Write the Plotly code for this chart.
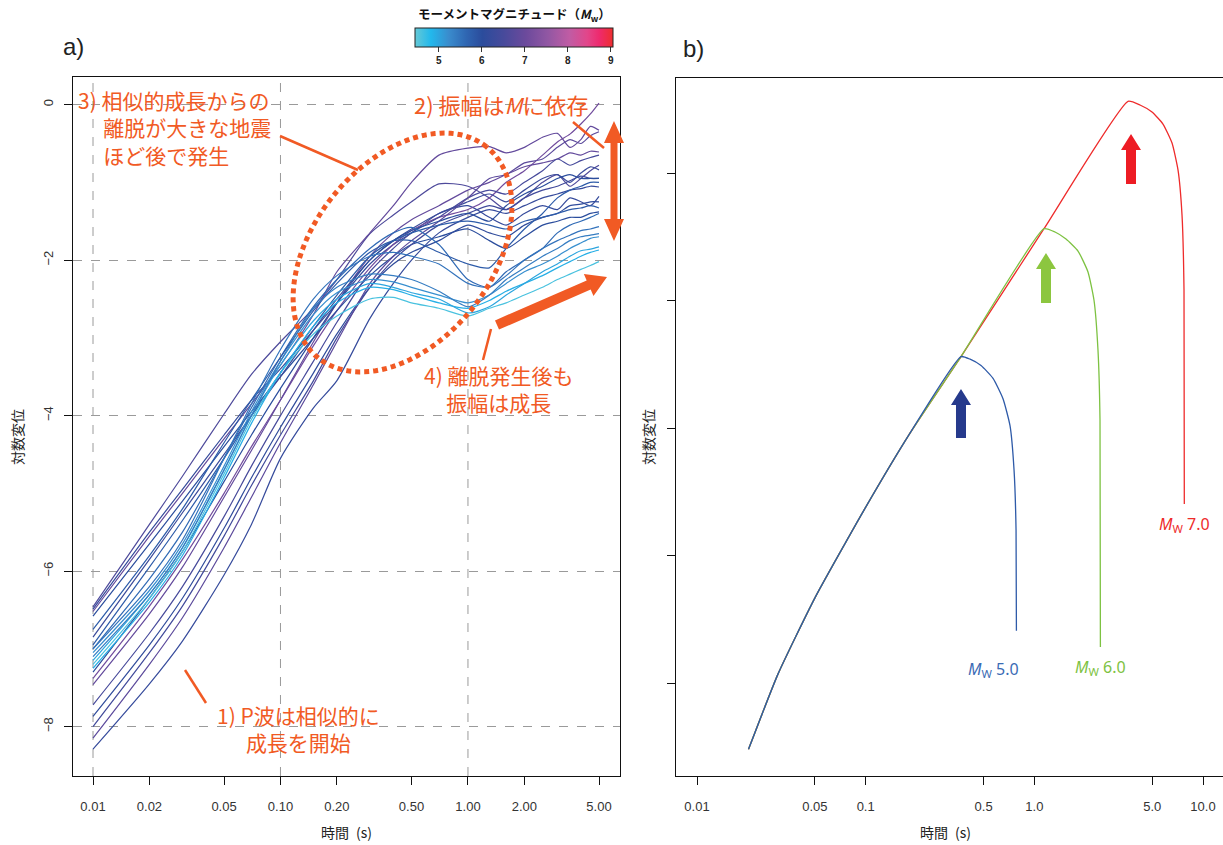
import math
import plotly.graph_objects as go
from plotly.colors import sample_colorscale

W, H = 1223, 845
ORANGE = "#F15A24"
JP = "Noto Sans CJK JP"
LAT = "Liberation Sans"

# ---------------- Panel a) data ----------------
T = [0.01, 0.02, 0.03, 0.05, 0.07, 0.1, 0.15, 0.2, 0.3, 0.4, 0.5, 0.7,
     1.0, 1.3, 1.6, 2.0, 2.5, 3.0, 3.5, 4.0, 4.5, 5.0]

h01 = [-6.46,-5.40,-4.78,-3.98,-3.47,-3.05,-2.62,-2.25,-1.66,-1.42,-1.25,-1.02,-1.05,-1.20,-1.35,-1.20,-1.00,-0.90,-1.05,-0.95,-0.85,-0.78]
h02 = [-6.49,-5.50,-4.95,-4.25,-3.80,-3.40,-2.90,-2.55,-2.05,-1.80,-1.65,-1.40,-1.30,-1.45,-1.55,-1.40,-1.30,-1.35,-1.20,-1.25,-1.30,-1.18]
h03 = [-6.52,-5.55,-5.00,-4.30,-3.85,-3.35,-2.70,-2.15,-1.65,-1.30,-1.00,-0.65,-0.56,-0.54,-0.62,-0.55,-0.42,-0.37,-0.55,-0.45,-0.28,-0.33]
h04 = [-7.38,-6.45,-5.85,-5.00,-4.40,-3.80,-3.10,-2.65,-2.10,-1.80,-1.62,-1.45,-1.35,-1.20,-1.00,-0.85,-0.65,-0.48,-0.38,-0.25,-0.12,0.02]
h05 = [-7.46,-6.55,-5.95,-5.05,-4.45,-3.80,-3.05,-2.55,-1.95,-1.65,-1.48,-1.30,-1.10,-1.00,-0.90,-0.80,-0.75,-0.70,-0.62,-0.65,-0.60,-0.61]
h06 = [-6.58,-5.65,-5.10,-4.40,-3.95,-3.50,-3.00,-2.65,-2.20,-1.95,-1.80,-1.70,-1.60,-1.75,-1.85,-1.70,-1.55,-1.50,-1.45,-1.45,-1.40,-1.38]
h07 = [-6.85,-5.85,-5.25,-4.50,-4.00,-3.50,-2.90,-2.50,-2.00,-1.75,-1.60,-1.40,-1.25,-1.15,-1.25,-1.10,-0.95,-0.90,-1.00,-0.88,-0.80,-0.84]
h08 = [-7.72,-6.80,-6.20,-5.30,-4.65,-4.00,-3.30,-2.80,-2.15,-1.85,-1.65,-1.45,-1.20,-1.10,-1.15,-1.00,-0.85,-0.70,-0.78,-0.72,-0.68,-0.65]
h09 = [-7.87,-6.95,-6.35,-5.45,-4.80,-4.15,-3.45,-2.95,-2.35,-2.05,-1.90,-1.75,-1.55,-1.65,-1.70,-1.55,-1.45,-1.40,-1.30,-1.28,-1.25,-1.25]
h10 = [-8.00,-7.05,-6.45,-5.55,-4.90,-4.25,-3.55,-3.00,-2.35,-2.00,-1.80,-1.55,-1.40,-1.30,-1.35,-1.20,-1.10,-1.05,-0.98,-0.92,-0.95,-0.95]
h11 = [-8.15,-7.20,-6.60,-5.70,-5.05,-4.35,-3.60,-3.05,-2.30,-1.95,-1.75,-1.50,-1.20,-0.95,-0.90,-0.75,-0.70,-0.55,-0.45,-0.50,-0.40,-0.35]
h12 = [-8.29,-7.45,-6.90,-6.05,-5.40,-4.55,-3.90,-3.55,-2.75,-2.30,-2.00,-1.65,-1.45,-1.35,-1.40,-1.30,-1.20,-1.15,-1.10,-1.08,-1.05,-1.06]
h13 = [-6.95,-5.95,-5.35,-4.55,-4.00,-3.45,-2.85,-2.45,-1.95,-1.75,-1.65,-1.55,-1.50,-1.55,-1.60,-1.50,-1.45,-1.40,-1.35,-1.33,-1.30,-1.33]
h14 = [-7.30,-6.35,-5.75,-4.85,-4.25,-3.65,-3.00,-2.55,-2.00,-1.75,-1.62,-1.50,-1.40,-1.50,-1.30,-1.15,-1.05,-0.95,-0.90,-0.95,-0.95,-0.95]
h15 = [-7.00,-6.10,-5.50,-4.55,-3.90,-3.25,-2.60,-2.25,-1.85,-1.65,-1.58,-1.80,-2.25,-2.35,-2.15,-2.00,-1.85,-1.65,-1.55,-1.50,-1.45,-1.40]
h16 = [-6.75,-5.80,-5.20,-4.35,-3.80,-3.25,-2.65,-2.30,-1.90,-1.75,-1.75,-1.90,-2.05,-2.10,-1.85,-1.60,-1.40,-1.20,-1.10,-1.05,-1.00,-1.00]
c01 = [-7.20,-6.35,-5.75,-4.75,-4.05,-3.45,-2.95,-2.72,-2.50,-2.48,-2.55,-2.62,-2.72,-2.62,-2.55,-2.45,-2.35,-2.25,-2.18,-2.12,-2.07,-2.02]
c02 = [-7.25,-6.40,-5.80,-4.80,-4.10,-3.45,-2.85,-2.55,-2.35,-2.38,-2.45,-2.55,-2.62,-2.52,-2.40,-2.30,-2.20,-2.10,-2.02,-1.95,-1.90,-1.87]
c03 = [-7.15,-6.30,-5.70,-4.70,-4.00,-3.35,-2.78,-2.50,-2.30,-2.35,-2.42,-2.50,-2.68,-2.60,-2.45,-2.30,-2.15,-2.05,-1.95,-1.88,-1.86,-1.83]
c04 = [-7.05,-6.25,-5.65,-4.65,-3.95,-3.30,-2.70,-2.42,-2.25,-2.28,-2.35,-2.45,-2.55,-2.45,-2.30,-2.15,-2.05,-1.95,-1.85,-1.78,-1.72,-1.70]
c05 = [-7.10,-6.30,-5.70,-4.70,-4.00,-3.30,-2.62,-2.35,-2.18,-2.20,-2.25,-2.40,-2.60,-2.45,-2.25,-2.10,-1.95,-1.85,-1.75,-1.70,-1.68,-1.66]
c06 = [-7.00,-6.20,-5.60,-4.55,-3.85,-3.15,-2.50,-2.20,-1.95,-1.90,-1.95,-2.05,-2.30,-2.35,-2.20,-2.00,-1.85,-1.75,-1.68,-1.62,-1.60,-1.57]

high_curves = [h01, h02, h03, h04, h05, h06, h07, h08, h09, h10, h11, h12, h13, h14, h15, h16]
high_mw = [6.6, 6.2, 6.9, 7.1, 6.9, 6.0, 6.3, 6.5, 6.1, 6.4, 6.8, 6.2, 5.8, 6.0, 5.6, 5.8]
low_curves = [c01, c02, c03, c04, c05, c06]
low_mw = [4.6, 4.9, 5.0, 5.2, 5.4, 5.5]

MW_MIN, MW_MAX = 4.45, 9.05
CS = [[0.0, "#66C9D6"], [0.08, "#22B8EC"], [0.17, "#3A8CCD"], [0.26, "#2F66B2"],
      [0.34, "#2B4C9C"], [0.45, "#484A9B"], [0.56, "#6C4A9C"], [0.67, "#9157A3"],
      [0.78, "#C05CA4"], [0.87, "#E2468A"], [0.93, "#EE2A6E"], [1.0, "#EE2E2E"]]

# ---------------- Panel b) data ----------------
grow_t = [0.0202, 0.0302, 0.0501, 0.0991, 0.1832, 0.3674]
grow_v = [-5.52, -4.93, -4.33, -3.63, -3.04, -2.44]
peak6_t, peak6_v = 1.141, -1.437
peak7_t, peak7_v = 3.592, -0.438
drop5_t = [0.416, 0.483, 0.569, 0.652, 0.717, 0.758, 0.779, 0.783]
drop5_v = [-2.46, -2.51, -2.61, -2.77, -2.98, -3.33, -3.80, -4.59]
drop6_t = [1.326, 1.541, 1.815, 2.080, 2.257, 2.384, 2.451, 2.464]
drop6_v = [-1.463, -1.518, -1.612, -1.776, -1.996, -2.388, -2.937, -4.718]
drop7_t = [4.231, 4.984, 5.790, 6.551, 7.107, 7.507, 7.715, 7.747]
drop7_v = [-0.467, -0.522, -0.616, -0.765, -0.976, -1.329, -1.918, -3.596]

xa_ticks = [0.01, 0.02, 0.05, 0.1, 0.2, 0.5, 1, 2, 5]
xa_text = ["0.01", "0.02", "0.05", "0.10", "0.20", "0.50", "1.00", "2.00", "5.00"]
ya_ticks = [-8, -6, -4, -2, 0]
xb_ticks = [0.01, 0.05, 0.1, 0.5, 1, 5, 10]
xb_text = ["0.01", "0.05", "0.1", "0.5", "1.0", "5.0", "10.0"]
yb_ticks = [-5, -4, -3, -2, -1]

fig = go.Figure()

def mcolor(m):
    return sample_colorscale(CS, [(m - MW_MIN) / (MW_MAX - MW_MIN)])[0]

for vals, m in list(zip(high_curves, high_mw)) + list(zip(low_curves, low_mw)):
    fig.add_trace(go.Scatter(x=T, y=vals, mode="lines", xaxis="x", yaxis="y",
                             line=dict(color=mcolor(m), width=1.2, shape="spline", smoothing=0.7),
                             hoverinfo="skip", showlegend=False))

# colorbar holder
fig.add_trace(go.Scatter(
    x=[None], y=[None], mode="markers", xaxis="x", yaxis="y", showlegend=False, hoverinfo="skip",
    marker=dict(color=[MW_MIN], colorscale=CS, cmin=MW_MIN, cmax=MW_MAX, showscale=True,
                colorbar=dict(orientation="h", x=514 / W, xanchor="center", y=1 - 28 / H, yanchor="top",
                              len=198, lenmode="pixels", thickness=19, thicknessmode="pixels",
                              outlinewidth=1, outlinecolor="#222", xpad=0, ypad=0,
                              tickvals=[5, 6, 7, 8, 9], ticks="outside", ticklen=5, tickcolor="#333",
                              tickfont=dict(size=10, color="#222", family=LAT, weight="bold")))))

# panel b lines: red, green, blue (blue on top)
BLUE, GREEN, RED = "#2E5AA8", "#7DC242", "#EE2B2B"
bline = dict(width=1.3, shape="spline", smoothing=0.5)
fig.add_trace(go.Scatter(x=grow_t + [peak6_t, peak7_t] + drop7_t, y=grow_v + [peak6_v, peak7_v] + drop7_v,
                         mode="lines", xaxis="x2", yaxis="y2", line=dict(color=RED, **bline),
                         hoverinfo="skip", showlegend=False))
fig.add_trace(go.Scatter(x=grow_t + [peak6_t] + drop6_t, y=grow_v + [peak6_v] + drop6_v,
                         mode="lines", xaxis="x2", yaxis="y2", line=dict(color=GREEN, **bline),
                         hoverinfo="skip", showlegend=False))
fig.add_trace(go.Scatter(x=grow_t + drop5_t, y=grow_v + drop5_v,
                         mode="lines", xaxis="x2", yaxis="y2", line=dict(color=BLUE, **bline),
                         hoverinfo="skip", showlegend=False))

# ---------------- helpers for decorations (pixel -> paper) ----------------
def P(x, y):
    return x / W, 1 - y / H

def arrow_path(x0, y0, x1, y1, w, hw, hl, double=False):
    dx, dy = x1 - x0, y1 - y0
    L = math.hypot(dx, dy)
    ux, uy = dx / L, dy / L
    nx, ny = -uy, ux
    pts = []
    bx1, by1 = x1 - ux * hl, y1 - uy * hl
    if double:
        bx0, by0 = x0 + ux * hl, y0 + uy * hl
    else:
        bx0, by0 = x0, y0
    pts.append((x1, y1))
    pts.append((bx1 + nx * hw / 2, by1 + ny * hw / 2))
    pts.append((bx1 + nx * w / 2, by1 + ny * w / 2))
    pts.append((bx0 + nx * w / 2, by0 + ny * w / 2))
    if double:
        pts.append((bx0 + nx * hw / 2, by0 + ny * hw / 2))
        pts.append((x0, y0))
        pts.append((bx0 - nx * hw / 2, by0 - ny * hw / 2))
    pts.append((bx0 - nx * w / 2, by0 - ny * w / 2))
    pts.append((bx1 - nx * w / 2, by1 - ny * w / 2))
    pts.append((bx1 - nx * hw / 2, by1 - ny * hw / 2))
    s = ""
    for i, (px, py) in enumerate(pts):
        a, b = P(px, py)
        s += ("M" if i == 0 else "L") + f"{a:.5f},{b:.5f} "
    return s + "Z"

shapes = []
# vertical dashed grid lines at decades (panel a)
for gx in [0.01, 0.1, 1.0]:
    shapes.append(dict(type="line", xref="x", yref="y domain", x0=gx, x1=gx, y0=0, y1=1,
                       line=dict(color="#9A9A9A", width=1, dash="dash"), layer="below"))

def seg(x0, y0, x1, y1, width=2.5, color=ORANGE):
    a0, b0 = P(x0, y0)
    a1, b1 = P(x1, y1)
    return dict(type="line", xref="paper", yref="paper", x0=a0, y0=b0, x1=a1, y1=b1,
                line=dict(color=color, width=width))

shapes.append(seg(185, 670, 206, 703))
shapes.append(seg(573, 122, 604, 148))
shapes.append(seg(280, 136, 358, 170))
shapes.append(seg(491, 329, 483, 360))

# dotted ellipse
cx, cy, ea, eb, th = 402.5, 252.5, 135.0, 89.5, math.radians(51.5)
ep = ""
for i in range(121):
    ph = 2 * math.pi * i / 120
    xx = cx + ea * math.cos(ph) * math.cos(th) - eb * math.sin(ph) * math.sin(th)
    yy = cy - (ea * math.cos(ph) * math.sin(th) + eb * math.sin(ph) * math.cos(th))
    a, b = P(xx, yy)
    ep += ("M" if i == 0 else "L") + f"{a:.5f},{b:.5f} "
shapes.append(dict(type="path", xref="paper", yref="paper", path=ep,
                   line=dict(color=ORANGE, width=5, dash="5px,4px")))

# thick orange arrows
shapes.append(dict(type="path", xref="paper", yref="paper",
                   path=arrow_path(614, 241, 614, 121, 7, 20, 22, double=True),
                   fillcolor=ORANGE, line=dict(width=0)))
shapes.append(dict(type="path", xref="paper", yref="paper",
                   path=arrow_path(497, 325, 607, 277, 10, 24, 20),
                   fillcolor=ORANGE, line=dict(width=0)))
# panel b up arrows
for (ax, ytip, ybase, col) in [(961, 389, 438, "#263A8C"), (1046, 253, 303, "#8CC63F"), (1131, 134, 184, "#ED1C24")]:
    shapes.append(dict(type="path", xref="paper", yref="paper",
                       path=arrow_path(ax, ybase, ax, ytip, 10, 20, 16),
                       fillcolor=col, line=dict(width=0)))

annotations = []

def txt(text, x, y, size=21, color=ORANGE, xanchor="center", family=JP, angle=0, align="center"):
    a, b = P(x, y)
    annotations.append(dict(text=text, x=a, y=b, xref="paper", yref="paper", showarrow=False,
                            xanchor=xanchor, yanchor="middle", textangle=angle, borderpad=0,
                            align=align, font=dict(size=size, color=color, family=family)))

IND = "\u3000\u2009"
txt("3) 相似的成長からの<br>" + IND + "離脱が大きな地震<br>" + IND + "ほど後で発生",
    77, 127, xanchor="left", align="left")
txt("2) 振幅は<i>M</i>に依存", 589, 104, size=22, xanchor="right")
txt("4) 離脱発生後も<br>振幅は成長", 498, 388)
txt("1) P波は相似的に<br>成長を開始", 298, 728)

txt("<b>モーメントマグニチュード（<i>M</i><sub>w</sub>）</b>", 514, 14, size=12.5, color="#111")
txt("a)", 73, 46, size=24, color="#222", family=LAT)
txt("b)", 693, 48, size=24, color="#222", family=LAT)
txt("対数変位", 17, 437, size=14, color="#222", angle=-90)
txt("対数変位", 648, 437, size=14, color="#222", angle=-90)
txt("時間\u2002(s)", 346, 832, size=14, color="#222")
txt("時間\u2002(s)", 945, 832, size=14, color="#222")

txt("<i>M</i><sub>W</sub> 5.0", 993, 669, size=16, color="#3A6BB5", family="Noto Sans")
txt("<i>M</i><sub>W</sub> 6.0", 1100, 667, size=16, color="#7DC242", family="Noto Sans")
txt("<i>M</i><sub>W</sub> 7.0", 1184, 524, size=16, color="#EE2B2B", family="Noto Sans")

tickfont = dict(size=13, color="#333", family=LAT)
axis_common = dict(showline=True, linecolor="#111", linewidth=1, ticks="outside", ticklen=8,
                   tickcolor="#111", automargin=False, zeroline=False, tickfont=tickfont)

fig.update_layout(
    width=W, height=H, margin=dict(l=0, r=0, t=0, b=0), autosize=False,
    paper_bgcolor="white", plot_bgcolor="white", showlegend=False, template="none",
    xaxis=dict(domain=[73 / W, 620 / W], type="log", range=[-2.1067, 0.8110],
               tickvals=xa_ticks, ticktext=xa_text, showgrid=False, mirror=True,
               ticklabelstandoff=10, anchor="y", **axis_common),
    yaxis=dict(domain=[1 - 776 / H, 1 - 77 / H], range=[-8.636, 0.355], tickvals=ya_ticks,
               tickangle=-90, showgrid=True, gridcolor="#9A9A9A", griddash="dash", gridwidth=1,
               mirror=True, anchor="x", ticklabelstandoff=6, **axis_common),
    xaxis2=dict(domain=[676 / W, 1.0], type="log", range=[-2.1245, 1.1185],
                tickvals=xb_ticks, ticktext=xb_text, showgrid=False, mirror=True,
                ticklabelstandoff=10, anchor="y2", **axis_common),
    yaxis2=dict(domain=[1 - 776 / H, 1 - 78 / H], range=[-5.729, -0.255], tickvals=yb_ticks,
                showticklabels=False, showgrid=False, mirror=False, anchor="x2", **axis_common),
    shapes=shapes, annotations=annotations,
)

fig.write_html("out.html", config={"displayModeBar": False},
               post_script="document.body.style.margin='0';document.body.style.padding='0';document.body.style.overflow='hidden';")
